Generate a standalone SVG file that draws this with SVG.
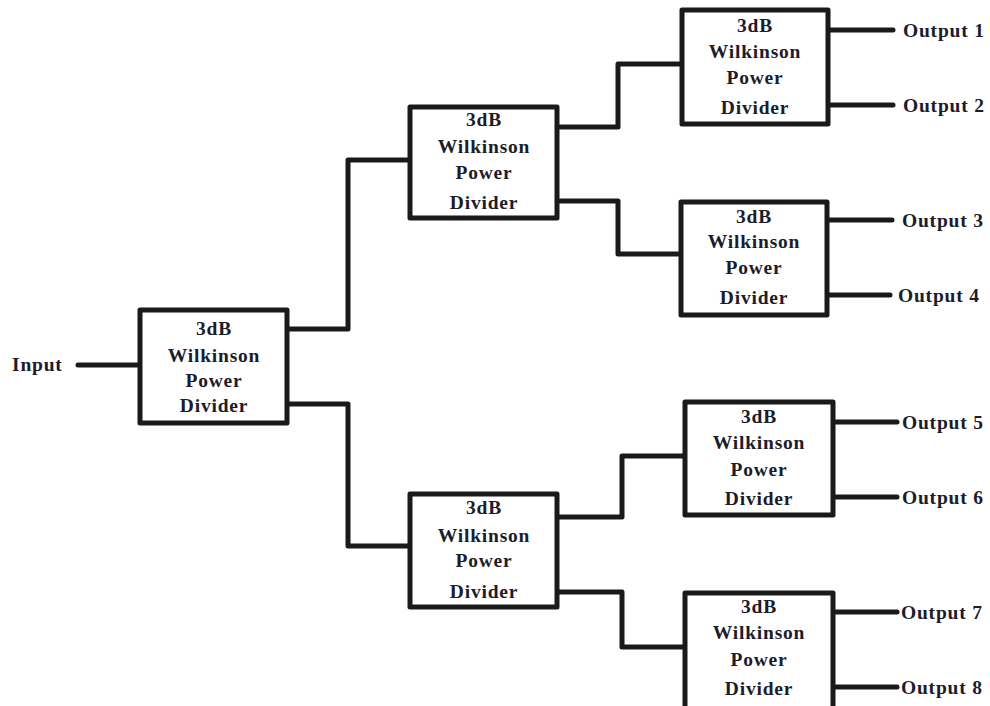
<svg xmlns="http://www.w3.org/2000/svg" width="990" height="706" viewBox="0 0 990 706">
<style>
.box{fill:#fff;stroke:#1a1a1a;stroke-width:5;stroke-linejoin:round}
.wire{fill:none;stroke:#1a1a1a;stroke-width:5;stroke-linejoin:round;stroke-linecap:round}
text{font-family:"Liberation Serif","Times New Roman",serif;font-weight:bold;font-size:19.5px;letter-spacing:0.8px;fill:#1c1c2a}
.c{text-anchor:middle}
</style>
<rect width="990" height="706" fill="#fff"/>
<g id="connectors">
<path class="wire" d="M78,365 H140"/>
<path class="wire" d="M287,329 H348 V160 H410"/>
<path class="wire" d="M287,404 H348 V546 H410"/>
<path class="wire" d="M557,127 H618 V64 H682"/>
<path class="wire" d="M557,201 H618 V254 H681"/>
<path class="wire" d="M557,517 H622 V456 H685"/>
<path class="wire" d="M557,592 H622 V647 H685"/>
<path class="wire" d="M828,30 H893"/>
<path class="wire" d="M828,105 H893"/>
<path class="wire" d="M827,220 H892"/>
<path class="wire" d="M827,295 H890"/>
<path class="wire" d="M833,422 H897"/>
<path class="wire" d="M833,497 H897"/>
<path class="wire" d="M833,612 H897"/>
<path class="wire" d="M833,687 H897"/>
</g>
<g id="input"><text x="12" y="371">Input</text></g>
<g id="div1">
<rect class="box" x="140" y="310" width="147" height="113"/>
<text class="c" x="214" y="335">3dB</text>
<text class="c" x="214" y="362">Wilkinson</text>
<text class="c" x="214" y="387">Power</text>
<text class="c" x="214" y="412">Divider</text>
</g>
<g id="div2">
<rect class="box" x="410" y="107" width="147" height="111"/>
<text class="c" x="484" y="126">3dB</text>
<text class="c" x="484" y="153">Wilkinson</text>
<text class="c" x="484" y="179">Power</text>
<text class="c" x="484" y="209">Divider</text>
</g>
<g id="div3">
<rect class="box" x="410" y="494" width="147" height="113"/>
<text class="c" x="484" y="514">3dB</text>
<text class="c" x="484" y="542">Wilkinson</text>
<text class="c" x="484" y="567">Power</text>
<text class="c" x="484" y="598">Divider</text>
</g>
<g id="div4">
<rect class="box" x="682" y="10" width="146" height="114"/>
<text class="c" x="755" y="32">3dB</text>
<text class="c" x="755" y="58">Wilkinson</text>
<text class="c" x="755" y="84">Power</text>
<text class="c" x="755" y="114">Divider</text>
</g>
<g id="div5">
<rect class="box" x="681" y="202" width="146" height="113"/>
<text class="c" x="754" y="223">3dB</text>
<text class="c" x="754" y="248">Wilkinson</text>
<text class="c" x="754" y="274">Power</text>
<text class="c" x="754" y="304">Divider</text>
</g>
<g id="div6">
<rect class="box" x="685" y="402" width="148" height="113"/>
<text class="c" x="759" y="423">3dB</text>
<text class="c" x="759" y="449">Wilkinson</text>
<text class="c" x="759" y="476">Power</text>
<text class="c" x="759" y="505">Divider</text>
</g>
<g id="div7">
<rect class="box" x="685" y="593" width="148" height="116"/>
<text class="c" x="759" y="613">3dB</text>
<text class="c" x="759" y="639">Wilkinson</text>
<text class="c" x="759" y="666">Power</text>
<text class="c" x="759" y="695">Divider</text>
</g>
<g id="outputs">
<text x="903" y="37">Output 1</text>
<text x="903" y="112">Output 2</text>
<text x="902" y="227">Output 3</text>
<text x="898" y="302">Output 4</text>
<text x="902" y="429">Output 5</text>
<text x="902" y="504">Output 6</text>
<text x="901" y="619">Output 7</text>
<text x="901" y="694">Output 8</text>
</g>
</svg>
